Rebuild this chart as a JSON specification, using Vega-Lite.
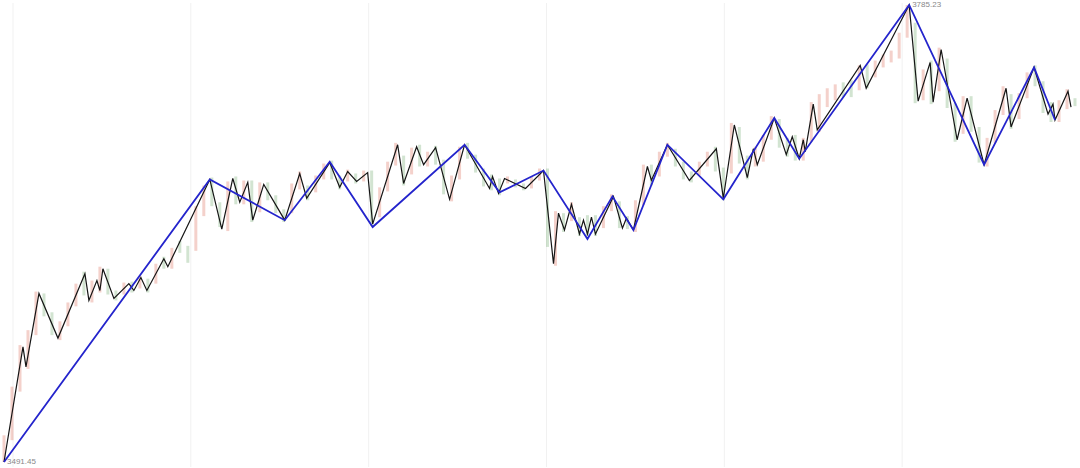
{
  "$schema": "https://vega.github.io/schema/vega-lite/v6.json",
  "width": 1080,
  "height": 468,
  "autosize": {"type": "fit", "contains": "padding"},
  "padding": 0,
  "background": "#ffffff",
  "config": {"view": {"stroke": null}},
  "datasets": {
    "grid": [{"x": 12}, {"x": 190}, {"x": 368}, {"x": 546}, {"x": 724}, {"x": 902}],
    "blue": [
      {"x": 3, "p": 3491.45}, {"x": 209, "p": 3673.1}, {"x": 284, "p": 3646.9}, {"x": 329, "p": 3684.5},
      {"x": 372, "p": 3642.5}, {"x": 464, "p": 3695.4}, {"x": 499, "p": 3664.8}, {"x": 543, "p": 3678.8},
      {"x": 587, "p": 3634.8}, {"x": 612, "p": 3662.2}, {"x": 633, "p": 3640.6}, {"x": 667, "p": 3695.4},
      {"x": 723, "p": 3660.3}, {"x": 774, "p": 3712.6}, {"x": 799, "p": 3686.4}, {"x": 909, "p": 3785.23},
      {"x": 984, "p": 3682.6}, {"x": 1034, "p": 3745.1}, {"x": 1055, "p": 3711.3}
    ],
    "black": [
      {"x": 3, "p": 3491.45}, {"x": 22, "p": 3565.4}, {"x": 25, "p": 3552.6}, {"x": 38, "p": 3599.8},
      {"x": 57, "p": 3571.1}, {"x": 84, "p": 3612.5}, {"x": 88, "p": 3595.3}, {"x": 96, "p": 3608.1},
      {"x": 99, "p": 3601.7}, {"x": 102, "p": 3615.7}, {"x": 113, "p": 3596.6}, {"x": 128, "p": 3606.1},
      {"x": 133, "p": 3601.7}, {"x": 140, "p": 3610.0}, {"x": 146, "p": 3601.7}, {"x": 163, "p": 3622.1},
      {"x": 167, "p": 3617.0}, {"x": 209, "p": 3673.1}, {"x": 221, "p": 3641.2}, {"x": 232, "p": 3673.7},
      {"x": 239, "p": 3658.4}, {"x": 247, "p": 3671.2}, {"x": 252, "p": 3646.9}, {"x": 263, "p": 3669.9},
      {"x": 284, "p": 3646.9}, {"x": 299, "p": 3676.9}, {"x": 306, "p": 3661.0}, {"x": 329, "p": 3683.9},
      {"x": 339, "p": 3668.0}, {"x": 347, "p": 3678.2}, {"x": 356, "p": 3671.8}, {"x": 367, "p": 3677.5},
      {"x": 372, "p": 3644.4}, {"x": 397, "p": 3695.4}, {"x": 403, "p": 3670.5}, {"x": 416, "p": 3694.1},
      {"x": 423, "p": 3682.6}, {"x": 435, "p": 3693.5}, {"x": 449, "p": 3660.3}, {"x": 464, "p": 3695.4},
      {"x": 489, "p": 3667.3}, {"x": 492, "p": 3675.0}, {"x": 498, "p": 3664.1}, {"x": 504, "p": 3673.7},
      {"x": 525, "p": 3667.3}, {"x": 543, "p": 3678.8}, {"x": 553, "p": 3618.9}, {"x": 558, "p": 3651.4},
      {"x": 564, "p": 3640.6}, {"x": 571, "p": 3657.1}, {"x": 579, "p": 3638.0}, {"x": 583, "p": 3646.9},
      {"x": 587, "p": 3638.0}, {"x": 591, "p": 3648.8}, {"x": 595, "p": 3638.0}, {"x": 613, "p": 3662.2},
      {"x": 622, "p": 3641.8}, {"x": 626, "p": 3648.2}, {"x": 633, "p": 3640.6}, {"x": 647, "p": 3681.4},
      {"x": 651, "p": 3672.5}, {"x": 667, "p": 3695.4}, {"x": 689, "p": 3672.4}, {"x": 716, "p": 3692.8},
      {"x": 723, "p": 3661.0}, {"x": 734, "p": 3708.1}, {"x": 747, "p": 3674.3}, {"x": 753, "p": 3692.8},
      {"x": 757, "p": 3682.6}, {"x": 774, "p": 3712.6}, {"x": 786, "p": 3689.0}, {"x": 792, "p": 3700.5},
      {"x": 799, "p": 3686.4}, {"x": 803, "p": 3698.6}, {"x": 805, "p": 3690.9}, {"x": 813, "p": 3721.5},
      {"x": 817, "p": 3704.9}, {"x": 860, "p": 3746.4}, {"x": 866, "p": 3731.7}, {"x": 909, "p": 3785.23},
      {"x": 918, "p": 3723.4}, {"x": 930, "p": 3748.3}, {"x": 933, "p": 3722.8}, {"x": 941, "p": 3756.6},
      {"x": 957, "p": 3698.6}, {"x": 967, "p": 3725.3}, {"x": 984, "p": 3682.6}, {"x": 1006, "p": 3731.7},
      {"x": 1011, "p": 3706.8}, {"x": 1034, "p": 3745.1}, {"x": 1048, "p": 3715.1}, {"x": 1053, "p": 3721.5},
      {"x": 1055, "p": 3711.3}, {"x": 1068, "p": 3729.8}, {"x": 1071, "p": 3719.6}
    ],
    "candles": [
      {"x": 3, "h": 3508.6, "l": 3491.45, "d": "u"}, {"x": 11, "h": 3539.9, "l": 3505.5, "d": "u"},
      {"x": 19, "h": 3566.6, "l": 3536.7, "d": "u"}, {"x": 27, "h": 3576.2, "l": 3551.3, "d": "u"},
      {"x": 35, "h": 3601.0, "l": 3573.0, "d": "u"}, {"x": 43, "h": 3599.8, "l": 3585.1, "d": "d"},
      {"x": 51, "h": 3587.7, "l": 3573.0, "d": "d"}, {"x": 59, "h": 3581.9, "l": 3569.8, "d": "u"},
      {"x": 67, "h": 3594.0, "l": 3578.7, "d": "u"}, {"x": 75, "h": 3606.1, "l": 3591.5, "d": "u"},
      {"x": 83, "h": 3613.8, "l": 3598.5, "d": "d"}, {"x": 91, "h": 3608.1, "l": 3594.0, "d": "u"},
      {"x": 99, "h": 3617.0, "l": 3600.4, "d": "u"}, {"x": 107, "h": 3615.7, "l": 3599.1, "d": "d"},
      {"x": 115, "h": 3601.7, "l": 3595.3, "d": "d"}, {"x": 123, "h": 3606.8, "l": 3599.1, "d": "u"},
      {"x": 131, "h": 3607.4, "l": 3600.4, "d": "d"}, {"x": 139, "h": 3611.2, "l": 3603.0, "d": "u"},
      {"x": 147, "h": 3609.3, "l": 3600.4, "d": "d"}, {"x": 155, "h": 3618.9, "l": 3606.1, "d": "u"},
      {"x": 163, "h": 3623.4, "l": 3615.7, "d": "d"}, {"x": 171, "h": 3629.1, "l": 3615.7, "d": "u"},
      {"x": 179, "h": 3633.6, "l": 3625.9, "d": "d"}, {"x": 187, "h": 3630.4, "l": 3619.5, "d": "d"},
      {"x": 195, "h": 3655.9, "l": 3627.2, "d": "u"}, {"x": 203, "h": 3669.2, "l": 3649.5, "d": "u"},
      {"x": 211, "h": 3674.3, "l": 3655.9, "d": "d"}, {"x": 219, "h": 3658.4, "l": 3642.5, "d": "d"},
      {"x": 227, "h": 3671.8, "l": 3639.9, "d": "u"}, {"x": 235, "h": 3675.0, "l": 3657.1, "d": "d"},
      {"x": 243, "h": 3672.4, "l": 3657.1, "d": "u"}, {"x": 251, "h": 3672.4, "l": 3645.7, "d": "d"},
      {"x": 259, "h": 3671.2, "l": 3652.0, "d": "u"}, {"x": 267, "h": 3671.2, "l": 3659.7, "d": "d"},
      {"x": 275, "h": 3662.9, "l": 3651.4, "d": "d"}, {"x": 283, "h": 3653.9, "l": 3645.7, "d": "d"},
      {"x": 291, "h": 3670.5, "l": 3651.4, "d": "u"}, {"x": 299, "h": 3678.2, "l": 3666.7, "d": "u"},
      {"x": 307, "h": 3669.2, "l": 3659.7, "d": "d"}, {"x": 315, "h": 3675.6, "l": 3664.8, "d": "u"},
      {"x": 323, "h": 3683.3, "l": 3673.1, "d": "u"}, {"x": 331, "h": 3685.2, "l": 3673.1, "d": "d"},
      {"x": 339, "h": 3675.6, "l": 3666.7, "d": "d"}, {"x": 347, "h": 3679.4, "l": 3671.8, "d": "u"},
      {"x": 355, "h": 3676.9, "l": 3670.5, "d": "d"}, {"x": 363, "h": 3678.8, "l": 3671.8, "d": "u"},
      {"x": 371, "h": 3678.8, "l": 3643.1, "d": "d"}, {"x": 379, "h": 3668.0, "l": 3648.8, "d": "u"},
      {"x": 387, "h": 3684.5, "l": 3665.4, "d": "u"}, {"x": 395, "h": 3696.6, "l": 3682.0, "d": "u"},
      {"x": 403, "h": 3688.4, "l": 3669.2, "d": "d"}, {"x": 411, "h": 3693.5, "l": 3676.3, "d": "u"},
      {"x": 419, "h": 3695.4, "l": 3681.4, "d": "d"}, {"x": 427, "h": 3690.9, "l": 3681.4, "d": "u"},
      {"x": 435, "h": 3694.7, "l": 3682.6, "d": "d"}, {"x": 443, "h": 3685.8, "l": 3663.5, "d": "d"},
      {"x": 451, "h": 3675.6, "l": 3659.0, "d": "u"}, {"x": 459, "h": 3694.1, "l": 3673.1, "d": "u"},
      {"x": 467, "h": 3696.6, "l": 3686.4, "d": "d"}, {"x": 475, "h": 3689.0, "l": 3677.5, "d": "d"},
      {"x": 483, "h": 3680.1, "l": 3668.6, "d": "d"}, {"x": 491, "h": 3676.3, "l": 3666.1, "d": "d"},
      {"x": 499, "h": 3673.7, "l": 3662.9, "d": "d"}, {"x": 507, "h": 3675.0, "l": 3670.5, "d": "u"},
      {"x": 515, "h": 3673.1, "l": 3668.0, "d": "d"}, {"x": 523, "h": 3670.5, "l": 3666.1, "d": "d"},
      {"x": 531, "h": 3675.0, "l": 3667.3, "d": "u"}, {"x": 539, "h": 3680.1, "l": 3672.4, "d": "u"},
      {"x": 547, "h": 3680.1, "l": 3629.7, "d": "d"}, {"x": 555, "h": 3652.7, "l": 3617.6, "d": "u"},
      {"x": 563, "h": 3651.4, "l": 3639.3, "d": "d"}, {"x": 571, "h": 3658.4, "l": 3646.3, "d": "u"},
      {"x": 579, "h": 3648.8, "l": 3636.7, "d": "d"}, {"x": 587, "h": 3650.1, "l": 3636.7, "d": "d"},
      {"x": 595, "h": 3650.1, "l": 3636.7, "d": "d"}, {"x": 603, "h": 3655.9, "l": 3641.8, "d": "u"},
      {"x": 611, "h": 3663.5, "l": 3652.7, "d": "u"}, {"x": 619, "h": 3659.0, "l": 3641.8, "d": "d"},
      {"x": 627, "h": 3649.5, "l": 3641.2, "d": "d"}, {"x": 635, "h": 3659.7, "l": 3639.3, "d": "u"},
      {"x": 643, "h": 3682.6, "l": 3656.5, "d": "u"}, {"x": 651, "h": 3682.6, "l": 3669.2, "d": "d"},
      {"x": 659, "h": 3690.9, "l": 3675.0, "d": "u"}, {"x": 667, "h": 3696.6, "l": 3687.7, "d": "u"},
      {"x": 675, "h": 3692.8, "l": 3681.4, "d": "d"}, {"x": 683, "h": 3684.5, "l": 3673.1, "d": "d"},
      {"x": 691, "h": 3678.2, "l": 3671.2, "d": "d"}, {"x": 699, "h": 3684.5, "l": 3675.6, "d": "u"},
      {"x": 707, "h": 3690.9, "l": 3681.4, "d": "u"}, {"x": 715, "h": 3694.1, "l": 3678.2, "d": "d"},
      {"x": 723, "h": 3680.7, "l": 3659.7, "d": "d"}, {"x": 731, "h": 3709.4, "l": 3676.9, "d": "u"},
      {"x": 739, "h": 3706.8, "l": 3683.3, "d": "d"}, {"x": 747, "h": 3688.4, "l": 3673.1, "d": "d"},
      {"x": 755, "h": 3694.1, "l": 3681.4, "d": "u"}, {"x": 763, "h": 3701.7, "l": 3684.5, "d": "u"},
      {"x": 771, "h": 3713.8, "l": 3698.6, "d": "u"}, {"x": 779, "h": 3711.9, "l": 3693.5, "d": "d"},
      {"x": 787, "h": 3699.8, "l": 3687.7, "d": "d"}, {"x": 795, "h": 3701.7, "l": 3685.2, "d": "d"},
      {"x": 803, "h": 3699.8, "l": 3685.2, "d": "u"}, {"x": 811, "h": 3722.8, "l": 3697.3, "d": "u"},
      {"x": 819, "h": 3727.9, "l": 3703.7, "d": "u"}, {"x": 827, "h": 3731.7, "l": 3719.6, "d": "u"},
      {"x": 835, "h": 3734.2, "l": 3724.0, "d": "u"}, {"x": 843, "h": 3735.5, "l": 3726.0, "d": "d"},
      {"x": 851, "h": 3736.8, "l": 3726.0, "d": "d"}, {"x": 859, "h": 3746.4, "l": 3730.4, "d": "u"},
      {"x": 867, "h": 3747.0, "l": 3731.7, "d": "d"}, {"x": 875, "h": 3749.5, "l": 3738.7, "d": "u"},
      {"x": 883, "h": 3753.4, "l": 3745.1, "d": "u"}, {"x": 891, "h": 3755.9, "l": 3748.3, "d": "u"},
      {"x": 899, "h": 3767.4, "l": 3750.8, "d": "u"}, {"x": 907, "h": 3785.23, "l": 3764.2, "d": "u"},
      {"x": 915, "h": 3773.8, "l": 3722.1, "d": "d"}, {"x": 923, "h": 3743.8, "l": 3724.0, "d": "u"},
      {"x": 931, "h": 3749.5, "l": 3721.5, "d": "d"}, {"x": 939, "h": 3757.8, "l": 3729.8, "d": "u"},
      {"x": 947, "h": 3750.8, "l": 3719.0, "d": "d"}, {"x": 955, "h": 3722.1, "l": 3697.3, "d": "d"},
      {"x": 963, "h": 3726.6, "l": 3702.4, "d": "u"}, {"x": 971, "h": 3726.6, "l": 3703.7, "d": "d"},
      {"x": 979, "h": 3706.8, "l": 3683.9, "d": "d"}, {"x": 987, "h": 3699.8, "l": 3681.4, "d": "u"},
      {"x": 995, "h": 3717.7, "l": 3696.6, "d": "u"}, {"x": 1003, "h": 3733.0, "l": 3714.5, "d": "u"},
      {"x": 1011, "h": 3727.9, "l": 3705.6, "d": "d"}, {"x": 1019, "h": 3728.5, "l": 3711.9, "d": "u"},
      {"x": 1027, "h": 3741.9, "l": 3725.3, "d": "u"}, {"x": 1035, "h": 3746.4, "l": 3733.0, "d": "d"},
      {"x": 1043, "h": 3736.2, "l": 3715.8, "d": "d"}, {"x": 1051, "h": 3722.8, "l": 3710.0, "d": "d"},
      {"x": 1059, "h": 3724.0, "l": 3710.0, "d": "u"}, {"x": 1067, "h": 3731.1, "l": 3718.3, "d": "u"},
      {"x": 1075, "h": 3725.3, "l": 3720.2, "d": "d"}
    ],
    "labels": [
      {"x": 3, "p": 3491.45, "t": "3491.45", "dy": 1},
      {"x": 909, "p": 3785.23, "t": "3785.23", "dy": 2}
    ]
  },
  "layer": [
    {
      "data": {"name": "grid"},
      "mark": {"type": "rule", "color": "#f1f1f1", "strokeWidth": 1},
      "encoding": {
        "x": {"field": "x", "type": "quantitative", "scale": {"domain": [0, 1080], "nice": false, "zero": false}, "axis": null}
      }
    },
    {
      "data": {"name": "candles"},
      "mark": {"type": "rule", "strokeWidth": 3, "opacity": 0.35},
      "encoding": {
        "x": {"field": "x", "type": "quantitative", "scale": {"domain": [0, 1080], "nice": false, "zero": false}, "axis": null},
        "y": {"field": "h", "type": "quantitative", "scale": {"domain": [3488.24, 3786.5], "nice": false, "zero": false}, "axis": null},
        "y2": {"field": "l"},
        "color": {"field": "d", "type": "nominal", "scale": {"domain": ["u", "d"], "range": ["#e07a6a", "#7fb37a"]}, "legend": null}
      }
    },
    {
      "data": {"name": "black"},
      "mark": {"type": "line", "color": "#151515", "strokeWidth": 1.2},
      "encoding": {
        "x": {"field": "x", "type": "quantitative", "scale": {"domain": [0, 1080], "nice": false, "zero": false}, "axis": null},
        "y": {"field": "p", "type": "quantitative", "scale": {"domain": [3488.24, 3786.5], "nice": false, "zero": false}, "axis": null}
      }
    },
    {
      "data": {"name": "blue"},
      "mark": {"type": "line", "color": "#2424cc", "strokeWidth": 1.8},
      "encoding": {
        "x": {"field": "x", "type": "quantitative", "scale": {"domain": [0, 1080], "nice": false, "zero": false}, "axis": null},
        "y": {"field": "p", "type": "quantitative", "scale": {"domain": [3488.24, 3786.5], "nice": false, "zero": false}, "axis": null}
      }
    },
    {
      "data": {"name": "labels"},
      "mark": {"type": "text", "align": "left", "baseline": "middle", "dx": 3, "fontSize": 8, "font": "Liberation Sans", "color": "#888888"},
      "encoding": {
        "x": {"field": "x", "type": "quantitative", "scale": {"domain": [0, 1080], "nice": false, "zero": false}, "axis": null},
        "y": {"field": "p", "type": "quantitative", "scale": {"domain": [3488.24, 3786.5], "nice": false, "zero": false}, "axis": null},
        "yOffset": {"field": "dy", "type": "quantitative", "scale": null},
        "text": {"field": "t", "type": "nominal"}
      }
    }
  ]
}
